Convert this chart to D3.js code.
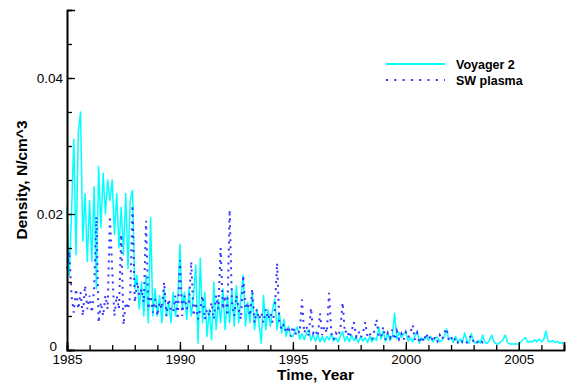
<!DOCTYPE html>
<html><head><meta charset="utf-8">
<script src="https://cdn.jsdelivr.net/npm/d3@7"></script>
<style>
body{margin:0;background:#fff}
svg{display:block}
text{font-family:"Liberation Sans",Arial,Helvetica,sans-serif}
</style>
</head><body>
<svg id="chart" width="572" height="385"></svg>
<script>
// Time sampling of both series (years)
const startYear = 1985;
const stepYear = 0.1;
// Densities in units of 1e-3 N/cm^3, one value per 0.1 year from 1985.0
const voyager2 = [
  21, 11, 20, 31, 14, 32, 35, 16, 23, 13,
  22, 13, 24, 9, 27, 18, 26, 20, 25, 22,
  25, 17, 23, 15, 21, 14, 23, 12, 22, 23.5,
  9, 11, 6, 10, 5, 11, 4, 19.5, 5, 9,
  5, 8, 4, 9, 5, 7, 4, 8.5, 5, 7,
  15.5, 6, 8.5, 4.5, 9, 5, 8, 12.5, 1, 13.5,
  4, 8.5, 2, 6, 1.5, 10, 3, 7.5, 4, 9,
  3, 8, 4, 9, 3.5, 9.5, 4, 8, 11, 3.5,
  7, 4, 8.5, 3, 6, 4, 1, 8, 3, 6,
  3.5, 6, 7.5, 3, 5.5, 2.5, 4.5, 2, 3.5, 2,
  2.0, 2.8, 3.4, 1.6, 2.4, 1.5, 2.5, 3.0, 1.4, 2.2,
  1.3, 2.3, 1.2, 2.0, 1.2, 2.0, 1.5, 2.4, 1.3, 1.8,
  1.2, 2.0, 2.7, 1.3, 2.0, 1.2, 2.2, 1.4, 1.9, 1.1,
  2.0, 1.3, 1.8, 1.1, 2.0, 1.2, 1.8, 1.4, 3.4, 1.6,
  2.8, 1.2, 2.5, 1.4, 2.0, 5.4, 1.6, 2.6, 1.8, 2.4,
  2.6, 1.3, 1.8, 1.2, 2.0, 2.8, 1.0, 1.8, 1.5, 2.0,
  1.4, 2.0, 1.2, 1.7, 1.9, 1.2, 1.4, 2.0, 3.1, 1.5,
  1.8, 1.1, 2.0, 1.2, 1.6, 1.0, 2.5, 1.4, 1.0, 2.4,
  1.2, 1.0, 1.4, 1.0, 2.2, 1.1, 1.0, 1.4, 2.2, 1.2,
  0.9, 0.9, 1.2, 1.5, 2.2, 1.1, 0.9, 0.9, 0.9, 0.9,
  0.9, 1.2, 1.6, 1.8, 1.1, 1.3, 1.2, 1.5, 1.2, 1.6,
  1.2, 1.5, 2.8, 1.3, 1.2, 1.4, 1.1, 1.3, 1.0, 1.1,
  0.8
];
const swPlasma = [
  12, 14.5, 8, 5.5, 9, 6, 8.5, 5, 9.5, 6,
  8, 5.5, 9, 19.6, 4, 7, 5, 8, 6, 19.7,
  12, 5, 8, 6, 17, 3.7, 7, 6, 8, 21.3,
  7, 10, 8, 9, 7, 19, 6, 8, 5.5, 7.5,
  5, 7, 6, 10, 5, 7.5, 6, 5.5, 8, 4.5,
  13.2, 5, 8, 6, 7, 13, 5, 7, 4.5, 6,
  8, 4.5, 6, 5, 7, 4.5, 8, 6, 15, 6,
  8, 5, 20.6, 7, 5, 8, 6, 4.5, 11, 6,
  7, 5, 9, 4, 6, 4.5, 5.5, 4, 6, 4.5,
  5.5, 4, 6, 12.8, 4, 3, 3.8, 2.5, 3.5, 2,
  3.5, 2.2, 3, 2.5, 7.4, 2.5, 3.5, 2, 6.2, 2.5,
  3, 2, 5.4, 2.2, 3.5, 2.5, 8.4, 2.5, 1.5, 2.5,
  2, 3, 7, 2.5, 3, 1.8, 2.8, 4.1, 2, 2.8,
  1.8, 2.5, 4.1, 2, 2.5, 1.5, 2.8, 4.5, 2, 1.8,
  3.4, 1.5, 2.5, 1.8, 3, 1.5, 2.8, 1.6, 2.4, 1.5,
  2.6, 1.8, 2.5, 3.7, 1.5, 2.5, 1, 2, 1.2, 2.5,
  1.5, 2.2, 1.2, 2, 1.3, 2.2, 1.5, 2.5, 3.2, 1.5,
  2, 1.2, 1.8, 1.1, 1.6, 1.2, 1.5, 1.1, 1.8, 2.1,
  1.2, 1.5, 1, 1.4, 1.1, 1.3
];
const valueUnit = 1e-3;
const seriesNames = ["Voyager 2", "SW plasma"];
const xDomain = [1985, 2007];
const yDomain = [0, 0.05];
const xMajorTicks = [1985, 1990, 1995, 2000, 2005];
const xMinorTicks = d3.range(1985, 2008, 1);
const yMajorTicks = [0, 0.02, 0.04];
const yMajorLabels = ["0", "0.02", "0.04"];
const yMinorTicks = d3.range(0, 0.0501, 0.005);
const xTitle = "Time, Year";
const yTitle = "Density, N/cm^3";

const svg = d3.select("#chart");
const m = {left: 67, right: 8, top: 10, bottom: 35};
const W = 572, H = 385;
const x = d3.scaleLinear().domain(xDomain).range([m.left, W - m.right]);
const y = d3.scaleLinear().domain(yDomain).range([H - m.bottom, m.top]);

const toPts = arr => arr.map((v, i) => [startYear + i * stepYear, v * valueUnit]);
const line = d3.line().x(d => x(d[0])).y(d => y(d[1]));

// series
svg.append("path").datum(toPts(voyager2))
  .attr("d", line).attr("fill", "none")
  .attr("stroke", "#00ffff").attr("stroke-width", 1.5).attr("stroke-linejoin", "round");
svg.append("path").datum(toPts(swPlasma))
  .attr("d", line).attr("fill", "none")
  .attr("stroke", "#3535ff").attr("stroke-width", 2)
  .attr("stroke-dasharray", "2,5");

// axes
const fontTick = "13.5px";
const gx = svg.append("g").attr("transform", `translate(0,${y(0)})`);
gx.append("g").call(d3.axisBottom(x).tickValues(xMinorTicks).tickSize(-5).tickFormat(""));
gx.append("g").call(d3.axisBottom(x).tickValues(xMajorTicks).tickSize(-8).tickPadding(4).tickFormat(d3.format("d")));
const gy = svg.append("g").attr("transform", `translate(${x(1985)},0)`);
gy.append("g").call(d3.axisLeft(y).tickValues(yMinorTicks).tickSize(-5).tickFormat(""));
gy.append("g").call(d3.axisLeft(y).tickValues(yMajorTicks).tickSize(-8).tickPadding(4)
  .tickFormat((d, i) => yMajorLabels[i]));
svg.selectAll(".domain").attr("stroke", "#000").attr("stroke-width", 1.6);
svg.selectAll(".tick line").attr("stroke", "#000").attr("stroke-width", 1.3);
svg.selectAll(".tick text").attr("fill", "#000").style("font-size", fontTick)
  .style("font-family", '"Liberation Sans",Arial,sans-serif');
// nudge the "0" label so it clears the first year label
gy.selectAll(".tick text").filter(d => d === 0).attr("x", -10).attr("dy", "0em");

// titles
svg.append("text").attr("x", (x.range()[0] + x.range()[1]) / 2).attr("y", 380)
  .attr("text-anchor", "middle").attr("font-weight", "bold").attr("font-size", "15.5px").text(xTitle);
svg.append("text").attr("transform", `translate(27,${(y.range()[0] + y.range()[1]) / 2}) rotate(-90)`)
  .attr("text-anchor", "middle").attr("font-weight", "bold").attr("font-size", "15.5px").text(yTitle);

// legend
const lg = svg.append("g");
lg.append("line").attr("x1", 386).attr("x2", 445).attr("y1", 64).attr("y2", 64)
  .attr("stroke", "#00ffff").attr("stroke-width", 2);
lg.append("line").attr("x1", 386).attr("x2", 445).attr("y1", 80).attr("y2", 80)
  .attr("stroke", "#3535ff").attr("stroke-width", 2).attr("stroke-dasharray", "2,6.3");
lg.selectAll("text").data(seriesNames).enter().append("text")
  .attr("x", 456).attr("y", (d, i) => 68.5 + i * 16)
  .attr("font-weight", "bold").attr("font-size", "12.5px").attr("fill", "#000").text(d => d);
</script>
</body></html>
